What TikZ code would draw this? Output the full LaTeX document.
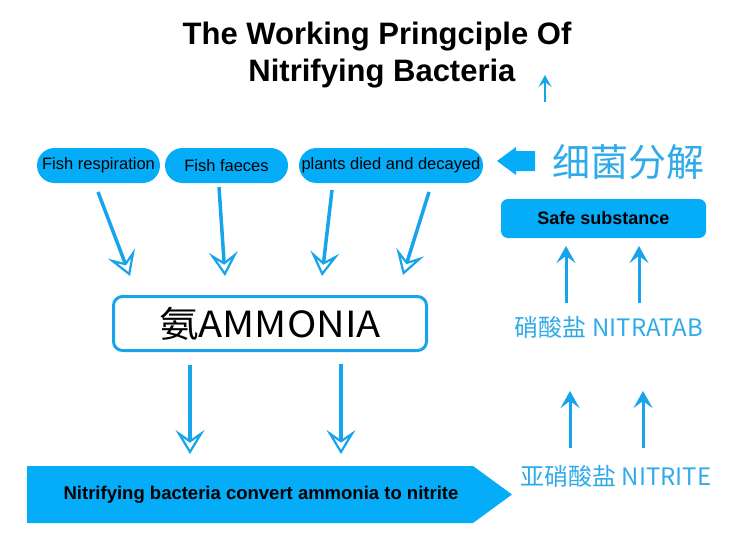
\documentclass[tikz,border=0pt]{standalone}
\usepackage{fontspec}
\setmainfont{Liberation Sans}
\newfontfamily\cjk{Noto Sans CJK SC}
\newfontfamily\cjkwide[FakeStretch=1.1]{Noto Sans CJK SC}
\usetikzlibrary{arrows.meta}
\definecolor{pillblue}{RGB}{5,172,248}
\definecolor{arrowblue}{RGB}{24,164,234}
\definecolor{labelblue}{RGB}{48,170,232}
\tikzset{
  pill/.style={fill=pillblue, rounded corners=17.5pt, minimum height=35pt, inner sep=0pt,
    font=\fontsize{16.5}{18}\selectfont, text=black},
  openarrow/.style={draw=arrowblue, line width=3.5pt,
    -{Stealth[open, length=24pt, width=29pt, inset=10pt, line width=2.2pt]}},
  uparrow/.style={draw=arrowblue, line width=3pt,
    -{Stealth[length=17pt, width=19pt, inset=7pt]}},
  bluelabel/.style={text=labelblue, inner sep=0pt},
}
\begin{document}
\begin{tikzpicture}[x=1pt, y=-1pt]
\path[use as bounding box] (0,0) rectangle (750,546);

% title
\node[anchor=base, font=\fontsize{31}{34}\selectfont\bfseries, inner sep=0pt] (t1) at (377,44) {The Working Pringciple Of};
\node[anchor=base, font=\fontsize{31}{34}\selectfont\bfseries, inner sep=0pt] (t2) at (382,81) {Nitrifying Bacteria};

% small up arrow
\coordinate (sa1) at (545,102);
\coordinate (sa2) at (545,75);
\draw[draw=arrowblue, line width=2.5pt, -{Stealth[length=12pt, width=13pt, inset=5pt]}] (sa1) -- (sa2);

% pills
\node[pill, minimum width=123pt] (p1) at (98.5,165.5) {Fish respiration};
\node[pill, minimum width=123pt] (p2) at (226.5,165.5) {Fish faeces};
\node[pill, minimum width=184pt] (p3) at (391,165.5) {plants died and decayed};

% fat left arrow
\path[fill=pillblue] (497,161) -- (516,147) -- (516,151) -- (535,151) -- (535,171) -- (516,171) -- (516,175) -- cycle;

% bacteria decomposition label
\node[bluelabel, font=\cjk\fontsize{38}{40}\selectfont] (decomp) at (628,162) {细菌分解};

% safe substance
\node[fill=pillblue, rounded corners=7pt, minimum width=205pt, minimum height=39pt, inner sep=0pt,
  font=\fontsize{18}{20}\selectfont\bfseries] (safe) at (603.5,218.5) {Safe substance};

% ammonia box
\node[draw=arrowblue, line width=3pt, fill=white, rounded corners=9pt, minimum width=313pt, minimum height=54pt, inner sep=0pt,
  font=\cjkwide\fontsize{36}{38}\selectfont] (amm) at (270,323.5) {氨AMMONIA};

% arrows from pills to ammonia
\coordinate (a1s) at (98,192);   \coordinate (a1e) at (130,276);
\coordinate (a2s) at (219,187);  \coordinate (a2e) at (225,276);
\coordinate (a3s) at (332,190);  \coordinate (a3e) at (322,276);
\coordinate (a4s) at (429,192);  \coordinate (a4e) at (403,275);
\draw[openarrow] (a1s) -- (a1e);
\draw[openarrow] (a2s) -- (a2e);
\draw[openarrow] (a3s) -- (a3e);
\draw[openarrow] (a4s) -- (a4e);

% arrows from ammonia down
\coordinate (b1s) at (190,365);  \coordinate (b1e) at (190,454);
\coordinate (b2s) at (341,364);  \coordinate (b2e) at (341,454);
\draw[openarrow] (b1s) -- (b1e);
\draw[openarrow] (b2s) -- (b2e);

% bottom pentagon
\path[fill=pillblue] (27,466) -- (473,466) -- (512,494.5) -- (473,523) -- (27,523) -- cycle;
\node[font=\fontsize{18.5}{20}\selectfont\bfseries, inner sep=0pt] (conv) at (261,495) {Nitrifying bacteria convert ammonia to nitrite};

% right side labels
\node[bluelabel, font=\cjk\fontsize{24}{26}\selectfont] (nitrate) at (609,327) {硝酸盐 NITRATAB};
\node[bluelabel, font=\cjk\fontsize{24}{26}\selectfont] (nitrite) at (616,476) {亚硝酸盐 NITRITE};

% up arrows
\coordinate (u1s) at (566,303);  \coordinate (u1e) at (566,246);
\coordinate (u2s) at (639,303);  \coordinate (u2e) at (639,246);
\coordinate (u3s) at (570,448);  \coordinate (u3e) at (570,391);
\coordinate (u4s) at (643,448);  \coordinate (u4e) at (643,391);
\draw[uparrow] (u1s) -- (u1e);
\draw[uparrow] (u2s) -- (u2e);
\draw[uparrow] (u3s) -- (u3e);
\draw[uparrow] (u4s) -- (u4e);
\end{tikzpicture}
\end{document}
